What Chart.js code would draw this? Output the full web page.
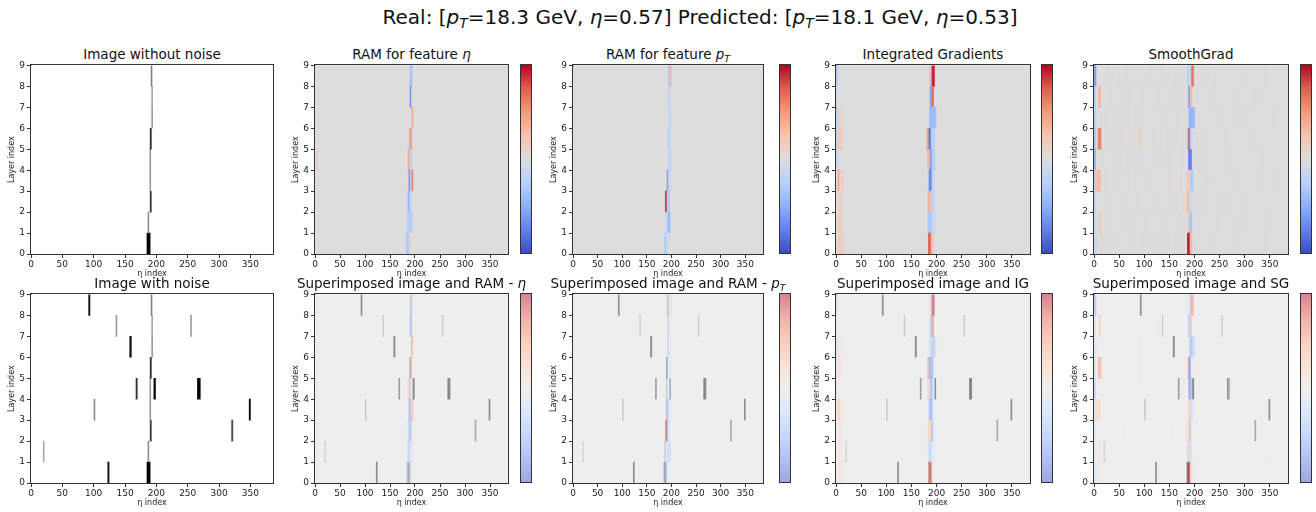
<!DOCTYPE html>
<html>
<head>
<meta charset="utf-8">
<script src="https://cdn.jsdelivr.net/npm/chart.js@4.4.1/dist/chart.umd.min.js"></script>
<style>
  body { margin: 0; background: #fff; width: 1316px; height: 512px; position: relative; overflow: hidden;
         font-family: "DejaVu Sans", sans-serif; color: #111; }
  .ttl { position: absolute; white-space: nowrap; transform: translateX(-50%); line-height: 1; }
  .ttl sub { font-size: 0.7em; vertical-align: -0.3em; line-height: 0; }
  canvas { position: absolute; }
  .cb { position: absolute; border: 1px solid #333; box-sizing: border-box; }
</style>
</head>
<body>
<div class="ttl" style="left:700px;top:7px;font-size:20px">Real: [<i>p</i><sub><i>T</i></sub>=18.3 GeV, <i>η</i>=0.57] Predicted: [<i>p</i><sub><i>T</i></sub>=18.1 GeV, <i>η</i>=0.53]</div>
<script>
// ---- axes / ticks ----
const etaMax = 386;
const etaTicks = [0, 50, 100, 150, 200, 250, 300, 350];
const layerTicks = [0, 1, 2, 3, 4, 5, 6, 7, 8, 9];

const panelTitles = [
  'Image without noise',
  'RAM for feature <i>η</i>',
  'RAM for feature <i>p</i><sub><i>T</i></sub>',
  'Integrated Gradients',
  'SmoothGrad',
  'Image with noise',
  'Superimposed image and RAM - <i>η</i>',
  'Superimposed image and RAM - <i>p</i><sub><i>T</i></sub>',
  'Superimposed image and IG',
  'Superimposed image and SG'
];

// cells: [layer, eta start, eta end, value]
// image intensity 0..1 (gray_r)
const trackHits = [
  [0, 185, 190, 1.0], [1, 186.5, 188, 0.45], [2, 190, 192, 0.75], [3, 189.5, 191, 0.4],
  [4, 189.5, 191, 0.4], [5, 190, 192, 0.8], [6, 192.5, 194, 0.4], [7, 192.5, 194, 0.35],
  [8, 191.5, 193, 0.5]
];
const noiseHits = [
  [8, 92, 94, 0.95], [7, 135.5, 137, 0.4], [7, 254.5, 256, 0.4], [6, 157.5, 160, 0.95],
  [4, 167.5, 169.5, 0.8], [4, 196, 198.5, 1.0], [4, 265.5, 270, 1.0], [3, 100.5, 102, 0.45],
  [3, 348, 350, 0.95], [2, 320, 322, 0.7], [1, 19.5, 21, 0.35], [0, 122.5, 124.5, 0.95]
];

// attribution maps, value -1..1 (coolwarm)
const ramEta = [
  [8, 190, 194, -0.35], [7, 190, 192, -0.65], [6, 194, 196, 0.4],
  [5, 188, 190, -0.3], [5, 190, 193, 0.5],
  [4, 3, 5, 0.12], [4, 186, 189, 0.4], [4, 190, 194, -0.2],
  [3, 188, 190, -0.8], [3, 190, 193, -0.2], [3, 193, 196, 0.55],
  [2, 186, 190, -0.45], [2, 190, 193, -0.15],
  [1, 184, 188, -0.2], [1, 188, 194, -0.28],
  [0, 182, 188, -0.3], [0, 189, 193, 0.08]
];
const ramPt = [
  [8, 194, 196, -0.35], [8, 198, 200, 0.3], [7, 194, 196, -0.25], [6, 193, 199, -0.12],
  [5, 192, 198, -0.18], [4, 193, 199, -0.18],
  [3, 191, 194, -0.6], [3, 194, 199, -0.1],
  [2, 187.5, 190.5, 0.85], [2, 191, 196, -0.3],
  [1, 189, 193, -0.22], [1, 194, 197, -0.45],
  [0, 186, 190, -0.3], [0, 190, 195, -0.1]
];
const igAttr = [
  [8, 0, 3, -0.3], [8, 185, 189, 0.2], [8, 189, 191, -0.4], [8, 191, 196, 0.9],
  [7, 0, 3, -0.1], [7, 187, 190, -0.55], [7, 191, 194, 0.7],
  [6, 0, 5, -0.2], [6, 5, 12, 0.1], [6, 186, 199, -0.4],
  [5, 0, 4, -0.2], [5, 4, 12, 0.2], [5, 181, 185, 0.45], [5, 185, 189, -0.8], [5, 189, 196, -0.25],
  [4, 0, 4, -0.1], [4, 182, 185, 0.35], [4, 187, 191, -0.6], [4, 191, 197, -0.25],
  [3, 4, 7, 0.45], [3, 7, 15, 0.12], [3, 185, 191, -0.7], [3, 191, 196, -0.15],
  [2, 4, 12, 0.12], [2, 183, 189, 0.35], [2, 189, 196, -0.2],
  [1, 4, 12, 0.15], [1, 183, 191, -0.3], [1, 191, 197, -0.15],
  [0, 4, 15, 0.15], [0, 184, 189, 0.75], [0, 189, 192, 0.3]
];
const sgAttr = [
  [8, 25, 27, 0.04], [8, 48, 50, -0.035], [8, 62, 64, 0.05], [8, 110, 112, 0.035], [8, 135, 137, -0.035],
  [8, 160, 163, 0.04], [8, 215, 217, 0.035], [8, 240, 242, -0.035], [8, 300, 302, 0.04], [8, 340, 342, 0.035],
  [7, 30, 32, 0.055], [7, 55, 57, 0.04], [7, 70, 72, 0.05], [7, 95, 97, 0.05], [7, 125, 128, 0.04],
  [7, 150, 152, -0.035], [7, 170, 173, 0.04], [7, 230, 232, 0.035], [7, 275, 277, 0.035], [7, 320, 322, -0.035],
  [6, 20, 22, 0.04], [6, 45, 47, -0.04], [6, 68, 70, 0.05], [6, 90, 93, 0.055], [6, 140, 142, 0.04],
  [6, 165, 167, 0.05], [6, 205, 207, -0.035], [6, 250, 252, 0.035], [6, 290, 292, 0.035], [6, 355, 357, 0.035],
  [5, 28, 30, 0.055], [5, 52, 54, 0.04], [5, 75, 77, 0.05], [5, 88, 95, 0.09], [5, 118, 120, 0.04],
  [5, 145, 148, 0.05], [5, 175, 178, 0.055], [5, 220, 222, 0.035], [5, 262, 264, 0.04], [5, 310, 312, -0.035],
  [4, 18, 20, 0.04], [4, 40, 42, 0.035], [4, 66, 68, -0.04], [4, 92, 94, -0.04], [4, 130, 132, 0.04],
  [4, 150, 152, 0.04], [4, 174, 177, 0.05], [4, 210, 212, -0.035], [4, 268, 270, 0.035], [4, 335, 337, 0.035],
  [3, 22, 24, 0.04], [3, 50, 52, 0.035], [3, 80, 82, 0.04], [3, 105, 107, -0.035], [3, 150, 152, 0.04],
  [3, 172, 175, 0.055], [3, 225, 227, 0.035], [3, 280, 282, -0.035], [3, 330, 332, 0.035], [3, 365, 367, 0.035],
  [2, 26, 28, 0.035], [2, 60, 62, 0.04], [2, 85, 87, -0.035], [2, 120, 122, 0.035], [2, 155, 157, 0.04],
  [2, 178, 181, 0.07], [2, 215, 217, 0.035], [2, 258, 260, 0.035], [2, 300, 302, -0.035],
  [1, 24, 26, 0.04], [1, 56, 58, -0.035], [1, 78, 80, 0.035], [1, 102, 104, 0.04], [1, 140, 142, 0.035],
  [1, 170, 173, 0.05], [1, 208, 210, -0.04], [1, 245, 247, 0.035], [1, 290, 292, 0.035], [1, 350, 352, -0.035],
  [0, 12, 18, 0.05], [0, 35, 37, 0.035], [0, 70, 72, 0.035], [0, 98, 100, -0.035], [0, 130, 132, 0.035],
  [0, 160, 163, 0.04], [0, 200, 202, -0.035], [0, 235, 237, 0.035], [0, 285, 287, 0.035], [0, 340, 342, -0.035],
  // strong parts
  [8, 0, 4, -0.6], [7, 0, 3, -0.3], [7, 9, 13, 0.35], [6, 0, 4, -0.25], [5, 0, 3, -0.35], [5, 8, 14, 0.6],
  [4, 0, 3, -0.5], [3, 0, 3, -0.3], [3, 5, 13, 0.3], [2, 0, 3, -0.2], [1, 0, 4, -0.15], [1, 9, 14, 0.15],
  [0, 0, 3, -0.15], [0, 3, 8, -0.1],
  [8, 185, 192, -0.2], [8, 194, 198, 0.65],
  [7, 188, 191, -0.6], [7, 191, 195, 0.3],
  [6, 189, 200, -0.45],
  [5, 187, 189, 0.7], [5, 189, 192, -0.7], [5, 192, 196, -0.15],
  [4, 188, 194, -0.75],
  [3, 185, 190, 0.2], [3, 192, 197, -0.3],
  [2, 185, 190, 0.3], [2, 190, 195, -0.1],
  [1, 185, 188, 0.15], [1, 190, 194, -0.35],
  [0, 186, 191, 0.95], [0, 191, 195, 0.3]
];

// ---- layout (pixels) ----
const axLeft = [31, 315, 573, 836, 1094];
const axWidth = [242, 193, 190, 194, 194];
const axTop = [64, 293];
const axHeight = 190;
const cbLeft = [520, 779, 1041, 1300];

// ---- colours ----
const cwStops = [[59, 76, 192], [98, 130, 234], [141, 176, 254], [184, 208, 249], [221, 221, 221],
                 [245, 196, 173], [244, 154, 123], [222, 96, 77], [180, 4, 38]];
function coolwarm(v) {
  const t = Math.max(0, Math.min(1, (v + 1) / 2)) * (cwStops.length - 1);
  const i = Math.min(Math.floor(t), cwStops.length - 2), f = t - i;
  return cwStops[i].map((c, k) => Math.round(c + (cwStops[i + 1][k] - c) * f));
}
const heatColor = v => 'rgb(' + coolwarm(v).join(',') + ')';
// half transparent on top of the image; +17 makes up for the pre-blended background
const heatOverlay = v => 'rgba(' + coolwarm(v).map(c => Math.min(255, c + 17)).join(',') + ',0.5)';
const grayColor = v => { const k = Math.round(255 * (1 - v)); return `rgb(${k},${k},${k})`; };
const grayUnder = v => { const k = Math.round(0.45 * 255 * (1 - v) + 135); return `rgb(${k},${k},${k})`; };

function toBars(cells, colorFn, order) {
  return {
    data: cells.map(c => ({ y: c[0] + 0.5, x: [c[1], c[2]] })),
    backgroundColor: cells.map(c => colorFn(c[3])),
    barPercentage: 1, categoryPercentage: 1, grouped: false, borderWidth: 0, order: order
  };
}

const framePlugin = {
  id: 'frame',
  beforeDatasetsDraw(chart, args, opts) {
    const { ctx, chartArea: a } = chart;
    ctx.save();
    ctx.fillStyle = opts.bg;
    ctx.fillRect(a.left, a.top, a.width, a.height);
    ctx.restore();
  },
  afterDatasetsDraw(chart) {
    const { ctx, chartArea: a } = chart;
    ctx.save();
    ctx.strokeStyle = '#333';
    ctx.lineWidth = 1;
    ctx.strokeRect(Math.round(a.left) - 0.5, Math.round(a.top) - 0.5, Math.round(a.width) + 1, Math.round(a.height) + 1);
    ctx.restore();
  }
};

Chart.defaults.font.family = '"DejaVu Sans", sans-serif';
Chart.defaults.color = '#222';

const heatMaps = [ramEta, ramPt, igAttr, sgAttr];
const noisyImage = trackHits.concat(noiseHits);

function makePanel(i) {
  const col = i % 5, row = Math.floor(i / 5);
  const L = axLeft[col], T = axTop[row], W = axWidth[col], H = axHeight;
  const padL = 24, padT = 6, padR = 8, padB = 26;

  const t = document.createElement('div');
  t.className = 'ttl';
  t.style.cssText = `left:${L + W / 2}px;top:${T - 16.5}px;font-size:13.5px`;
  t.innerHTML = panelTitles[i];
  document.body.appendChild(t);

  const cv = document.createElement('canvas');
  cv.width = W + padL + padR;
  cv.height = H + padT + padB;
  cv.style.left = (L - padL) + 'px';
  cv.style.top = (T - padT) + 'px';
  document.body.appendChild(cv);

  let datasets, bg;
  if (i === 0) { datasets = [toBars(trackHits, grayColor, 1)]; bg = '#ffffff'; }
  else if (i === 5) { datasets = [toBars(noisyImage, grayColor, 1)]; bg = '#ffffff'; }
  else if (row === 0) { datasets = [toBars(heatMaps[col - 1], heatColor, 0)]; bg = 'rgb(221,221,221)'; }
  else {
    datasets = [toBars(heatMaps[col - 1], heatOverlay, 0), toBars(noisyImage, grayUnder, 1)];
    bg = 'rgb(238,238,238)';
  }

  new Chart(cv, {
    type: 'bar',
    data: { datasets },
    plugins: [framePlugin],
    options: {
      indexAxis: 'y',
      responsive: false,
      animation: false,
      events: [],
      layout: { padding: { left: 0, top: padT, right: padR, bottom: 0 } },
      plugins: { legend: { display: false }, tooltip: { enabled: false }, frame: { bg } },
      scales: {
        x: {
          type: 'linear', min: 0, max: etaMax,
          afterBuildTicks: s => { s.ticks = etaTicks.map(v => ({ value: v })); },
          afterFit: s => { s.height = padB; },
          ticks: { font: { size: 9 }, padding: 1, maxRotation: 0, autoSkip: false },
          grid: { display: true, drawOnChartArea: false, drawTicks: true, tickLength: 4, color: '#333' },
          border: { display: true, color: '#333' },
          title: { display: true, text: 'η index', font: { size: 8 }, padding: { top: 0, bottom: 1 }, color: '#222' }
        },
        y: {
          type: 'linear', min: 0, max: 9, offset: false,
          afterBuildTicks: s => { s.ticks = layerTicks.map(v => ({ value: v })); },
          afterFit: s => { s.width = padL; },
          ticks: { font: { size: 9 }, padding: 2, autoSkip: false },
          grid: { display: true, offset: false, drawOnChartArea: false, drawTicks: true, tickLength: 4, color: '#333' },
          border: { display: true, color: '#333' },
          title: { display: true, text: 'Layer index', font: { size: 8 }, padding: 0, color: '#222' }
        }
      }
    }
  });
}

for (let i = 0; i < 10; i++) makePanel(i);

// colour bars
const cbTop = cwStops.map((c, k) => `rgb(${c.join(',')}) ${(k / (cwStops.length - 1) * 100).toFixed(1)}%`).join(',');
const cbBottom = cwStops.map((c, k) => `rgb(${c.map(x => Math.round(0.5 * x + 127.5)).join(',')}) ${(k / (cwStops.length - 1) * 100).toFixed(1)}%`).join(',');
for (let row = 0; row < 2; row++) {
  cbLeft.forEach(x => {
    const d = document.createElement('div');
    d.className = 'cb';
    d.style.cssText = `left:${x}px;top:${axTop[row]}px;width:12px;height:${axHeight}px;` +
      `background:linear-gradient(to top, ${row === 0 ? cbTop : cbBottom})`;
    document.body.appendChild(d);
  });
}
</script>
</body>
</html>
